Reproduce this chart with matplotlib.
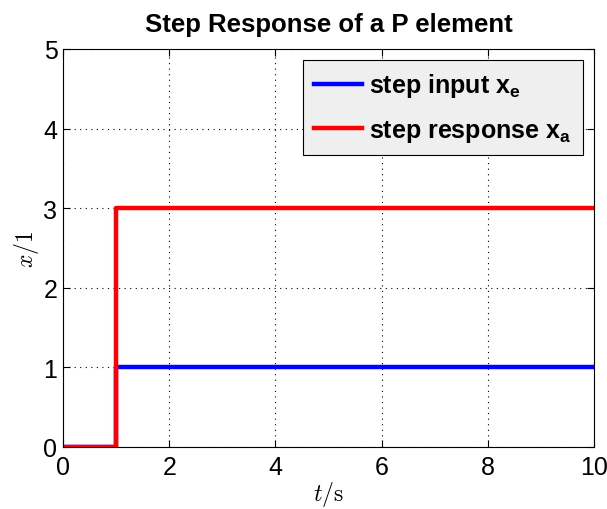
import matplotlib
matplotlib.use('Agg')
import matplotlib.pyplot as plt

# step signals
t_input = [0, 1, 1, 10]
x_input = [0, 0, 1, 1]
t_response = [0, 1, 1, 10]
x_response = [0, 0, 3, 3]

x_ticks = [0, 2, 4, 6, 8, 10]
y_ticks = [0, 1, 2, 3, 4, 5]


def main():
    plt.rcParams['font.family'] = ['Liberation Sans', 'DejaVu Sans']
    plt.rcParams['mathtext.fontset'] = 'custom'
    plt.rcParams['mathtext.rm'] = 'Liberation Sans'
    plt.rcParams['mathtext.bf'] = 'Liberation Sans:bold'

    fig = plt.figure(figsize=(6.07, 5.10), dpi=100)
    ax = fig.add_axes([0.1038, 0.1216, 0.875, 0.7804])

    ax.plot(t_input, x_input, color='#0000ff', lw=3.2, label=r'step input $\mathbf{x_e}$')
    ax.plot(t_response, x_response, color='#ff0000', lw=3.2, label=r'step response $\mathbf{x_a}$')

    ax.set_xlim(0, 10)
    ax.set_ylim(0, 5)
    ax.set_xticks(x_ticks)
    ax.set_yticks(y_ticks)
    ax.tick_params(direction='in', top=True, right=True, labelsize=18, length=5, width=0.8)
    ax.tick_params(axis='x', pad=6)
    ax.tick_params(axis='y', pad=4)
    ax.grid(True, color='black', linestyle=(0, (1, 4)), linewidth=0.8)
    for s in ax.spines.values():
        s.set_linewidth(0.8)

    ax.set_title('Step Response of a P element', fontsize=18.5, fontweight='bold', pad=13)
    ax.set_xlabel(r'$t/\mathrm{s}$', fontsize=17, math_fontfamily='cm', labelpad=0)
    ax.set_ylabel(r'$x/1$', fontsize=17, math_fontfamily='cm', labelpad=2)

    leg = ax.legend(loc='upper right', prop={'weight': 'bold', 'size': 18},
                    fancybox=False, framealpha=1, edgecolor='black',
                    handlelength=1.9, handletextpad=0.3, borderaxespad=0.45,
                    labelspacing=0.75, borderpad=0.45)
    leg.get_frame().set_facecolor('#efefef')
    leg.get_frame().set_linewidth(0.8)

    fig.savefig('out.png', dpi=100, facecolor='white')


if __name__ == "__main__":
    main()
